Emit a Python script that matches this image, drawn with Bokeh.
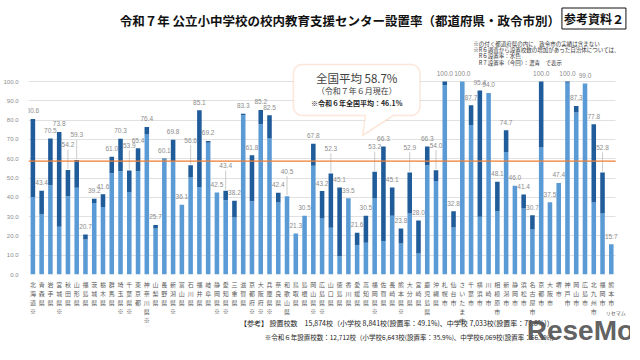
import math
import numpy as np
from bokeh.plotting import figure
from bokeh.models import (ColumnDataSource, FixedTicker, NumeralTickFormatter, Range1d,
                          Label, PolyAnnotation)
from bokeh.embed import file_html
from bokeh.resources import INLINE
from bokeh.core.properties import value

# ---------------- data ----------------
regions = [
    "北海道※", "青森県", "岩手県", "宮城県※", "秋田県", "山形県", "福島県", "茨城県", "栃木県", "群馬県",
    "埼玉県※", "千葉県※", "東京都", "神奈川県※", "山梨県", "長野県", "新潟県※", "富山県", "石川県", "福井県",
    "岐阜県", "静岡県※", "愛知県※", "三重県", "滋賀県", "京都府※", "大阪府※", "兵庫県※", "奈良県", "和歌山県",
    "鳥取県", "島根県", "岡山県※", "広島県※", "山口県", "徳島県", "香川県", "愛媛県", "高知県", "福岡県※",
    "佐賀県", "長崎県", "熊本県※", "大分県", "宮崎県", "鹿児島県", "沖縄県",
    "札幌市", "仙台市", "さいたま市", "千葉市", "横浜市", "川崎市", "相模原市", "新潟市", "静岡市", "浜松市",
    "名古屋市", "京都市", "大阪市", "堺市", "神戸市", "岡山市", "広島市", "北九州市", "福岡市", "熊本市",
]
# R7 (today) setting rate, %
rate_r7 = [
    80.6, 43.4, 70.5, 73.8, 54.2, 59.3, 20.7, 39.2, 41.6, 61.0,
    70.3, 53.9, 65.4, 76.4, 25.7, 60.1, 69.8, 36.1, 56.6, 85.1,
    69.2, 42.5, 43.4, 38.2, 83.3, 61.8, 85.2, 82.5, 42.4, 40.5,
    21.3, 30.5, 67.8, 43.2, 52.3, 45.1, 39.5, 21.6, 30.5, 53.2,
    66.3, 45.1, 23.8, 52.9, 28.0, 66.3, 54.0,
    100.0, 32.8, 100.0, 87.7, 95.4, 94.0, 48.1, 74.7, 46.0, 41.4,
    30.7, 100.0, 37.5, 47.4, 100.0, 87.3, 99.0, 77.8, 52.8, 15.7,
]
# R6 setting rate, % (estimated from the light-blue part)
rate_r6 = [
    40.2, 31.2, 46.3, 24.8, 40.6, 44.9, 18.1, 37.1, 35.0, 52.5,
    53.5, 42.8, 53.5, 72.5, 23.8, 59.6, 58.7, 36.1, 50.3, 45.4,
    68.2, 42.5, 38.5, 29.5, 82.5, 38.0, 77.9, 70.5, 37.3, 40.5,
    21.3, 30.5, 56.3, 29.0, 24.2, 9.5, 39.5, 15.2, 16.4, 39.4,
    17.4, 30.4, 16.0, 31.6, 10.9, 56.6, 48.5,
    98.1, 24.3, 100.0, 77.4, 29.9, 94.0, 32.8, 63.5, 46.0, 34.2,
    23.3, 65.8, 37.5, 47.4, 99.3, 83.9, 99.0, 37.3, 31.6, 15.7,
]
national_avg_r7 = 58.7
national_avg_r6 = 46.1
y_ticks = [0, 10, 20, 30, 40, 50, 60, 70, 80, 90, 100]

# labels drawn higher with a leader line
lifted = {"秋田県", "山形県", "千葉県※", "石川県", "愛知県※", "和歌山県", "山口県",
          "福岡県※", "大分県", "沖縄県", "福岡市"}

# ---------------- styles / layout ----------------
LIGHT = "#5B9BD5"
DARK = "#1F5C99"
ORANGE = "#ED7D31"
JP = "Noto Sans CJK JP"

W, H = 630, 344
n = len(regions)
FL = 21                    # frame left (figure px)
DX = 594.0 / n             # px per category
FB = 274                   # figure px of value 0 (frame bottom)
DY = 1.93                  # px per percent
X_END = -0.5 + (W - FL) / DX
Y_END = FB / DY
OY_MAIN = 0                # measured vertical offset of the plot layer on the page
OY_OVER = 6                # measured vertical offset of the overlay layer on the page

p = figure(width=W, height=H, output_backend="svg", toolbar_location=None, title=None,
           x_range=Range1d(-0.5, X_END), y_range=Range1d(0, Y_END),
           min_border_left=FL, min_border_right=0,
           min_border_top=0, min_border_bottom=H - FB)
p.outline_line_color = None
p.background_fill_color = "white"
p.border_fill_color = "white"

def px(x_page):
    return (x_page - 8 - FL) / DX - 0.5
def py(y_page, oy=OY_MAIN):
    return (FB - (y_page - oy)) / DY

idx = list(range(n))
src = ColumnDataSource(dict(x=idx, r6=rate_r6, r7=rate_r7))

# grid (limited to the category span)
p.xgrid.grid_line_color = None
p.ygrid.ticker = FixedTicker(ticks=y_ticks)
p.ygrid.grid_line_color = "#D9D9D9"
p.ygrid.grid_line_width = 0.8
try:
    p.ygrid.cross_bounds = (-0.5, n - 0.5)
except Exception:
    p.ygrid.grid_line_color = None
    p.segment(x0=[-0.5] * len(y_ticks), y0=y_ticks, x1=[n - 0.5] * len(y_ticks), y1=y_ticks,
              line_color="#D9D9D9", line_width=0.8, level="underlay")

p.vbar(x="x", bottom=0, top="r6", width=0.52, fill_color=LIGHT, line_color=None, source=src)
p.vbar(x="x", bottom="r6", top="r7", width=0.52, fill_color=DARK, line_color=None, source=src)

# value labels
lab_y, lx0, ly0, ly1 = [], [], [], []
for i, (name, v) in enumerate(zip(regions, rate_r7)):
    if name in lifted:
        lab_y.append(v + 13)
        lx0.append(i); ly0.append(v + 0.5); ly1.append(v + 10.5)
    else:
        lab_y.append(v + 4.2)
lsrc = ColumnDataSource(dict(x=idx, y=lab_y, t=[f"{v:.1f}" for v in rate_r7]))
p.segment(x0=lx0, y0=ly0, x1=lx0, y1=ly1, line_color="#BFBFBF", line_width=0.8)
p.text(x="x", y="y", text="t", source=lsrc, text_align="center", text_baseline="middle",
       text_font=value("Liberation Sans"), text_font_size="6.5px", text_color="#8C8C8C")

# average line (only over the categories)
p.segment(x0=[-0.5], y0=[national_avg_r7], x1=[n - 0.5], y1=[national_avg_r7],
          line_color=ORANGE, line_width=1.3)

# axes
p.yaxis.ticker = FixedTicker(ticks=y_ticks)
p.yaxis.formatter = NumeralTickFormatter(format="0.0")
p.yaxis.axis_line_color = None
p.yaxis.major_tick_line_color = None
p.yaxis.minor_tick_line_color = None
p.yaxis.major_label_text_font_size = "6px"
p.yaxis.major_label_text_color = "#8C8C8C"
p.yaxis.major_label_text_font = "Liberation Sans"
p.yaxis.major_label_standoff = 4

p.xaxis.ticker = FixedTicker(ticks=idx)
p.xaxis.major_label_overrides = {i: "\n".join(list(name)) for i, name in enumerate(regions)}
p.xaxis.axis_line_color = None
p.xaxis.major_tick_line_color = None
p.xaxis.minor_tick_line_color = None
p.xaxis.major_tick_in = 0
p.xaxis.major_tick_out = 0
p.xaxis.major_label_text_font_size = "6px"
p.xaxis.major_label_text_color = "#595959"
p.xaxis.major_label_text_font = JP
p.xaxis.major_label_text_line_height = 1.0
p.xaxis.major_label_standoff = 5

# callout
bx0, by0, bx1, by1, r = 297, 64, 425, 115, 9
pts = []
def arc(cx, cy, a0, a1):
    for t in np.linspace(a0, a1, 8):
        pts.append((cx + r * math.cos(t), cy + r * math.sin(t)))
arc(bx0 + r, by0 + r, math.pi, 1.5 * math.pi)
arc(bx1 - r, by0 + r, 1.5 * math.pi, 2 * math.pi)
arc(bx1 - r, by1 - r, 0, 0.5 * math.pi)
pts += [(398, by1), (367, 135), (370, by1)]
arc(bx0 + r, by1 - r, 0.5 * math.pi, math.pi)
p.add_layout(PolyAnnotation(xs=[px(a) for a, b in pts], ys=[py(b) for a, b in pts],
                            fill_color="white", fill_alpha=1.0,
                            line_color="#F4B183", line_width=1.5))

def lab(text, xp, yp, size, align="center", bold=False, color="#333333", font=JP, **kw):
    p.add_layout(Label(x=px(xp), y=py(yp), text=text, text_align=align, text_baseline="middle",
                       text_font=font, text_font_size=size, text_color=color,
                       text_font_style="bold" if bold else "normal", **kw))

lab(f"全国平均 {national_avg_r7}%", 361, 77, "11.5px", color="#404040")
lab("（令和７年６月現在）", 361, 89.5, "8px", color="#404040")
lab(f"※令和６年全国平均：{national_avg_r6}%", 361, 102, "7px", bold=True, color="#262626")

# title and notes
lab("令和７年 公立小中学校の校内教育支援センター設置率（都道府県・政令市別）", 344, 20, "12.5px",
    bold=True, color="#111111")
lab("参考資料２", 601, 18, "12px", bold=True, color="#111111",
    border_line_color="#111111", border_line_width=1, background_fill_color="white", padding=2)
notes = ["※の付く都道府県の内に、政令市の実績は含まない",
         "※R６調査から設置校数の増加があった自治体については、",
         "　R６設置率：水色",
         "　R７設置率（今回）：濃青　で表示"]
for k, t in enumerate(notes):
    lab(t, 479, 43 + k * 6.4, "5.5px", align="left", color="#333333")

# footer lines below the category axis (overlay level: drawn outside the frame)
def foot(text, xp, yp, size, bold=False, color="#222222", font=JP, alpha=1.0, align="left"):
    p.text(x=[px(xp)], y=[py(yp, OY_OVER)], text=[text], text_align=align, text_baseline="middle",
           text_font=value(font), text_font_size=size, text_color=color, text_alpha=alpha,
           text_font_style="bold" if bold else "normal", level="overlay")

foot("【参考】 設置校数　15,874校（小学校 8,841校(設置率：49.1%)、中学校 7,033校(設置率：77.8%)）",
     243, 328, "7px")
foot("※令和６年設置校数：12,712校（小学校6,643校(設置率：35.9%)、中学校6,069校(設置率：66.9%)）",
     268, 342.5, "6.5px")
foot("ReseMom", 533, 336, "28px", bold=True, color="#4D4D4D", font="Liberation Sans", alpha=0.9)
foot("リセマム", 623, 318, "5px", color="#555555", align="center")

open("out.html", "w").write(file_html(p, INLINE))
